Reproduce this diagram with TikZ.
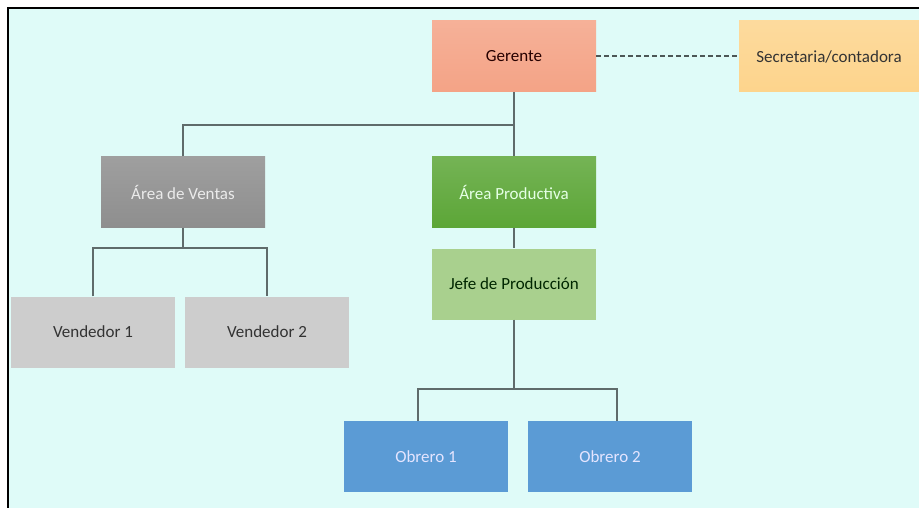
\documentclass[tikz,border=0pt]{standalone}
\usepackage{fontspec}
\setmainfont{Carlito}
\usepackage{xcolor}
\usetikzlibrary{calc,positioning}
\definecolor{fondo}{HTML}{DFFBF8}
\definecolor{salmon}{HTML}{F4A386}
\definecolor{naranja}{HTML}{FDD48C}
\definecolor{grisosc}{HTML}{8E8E8E}
\definecolor{grisclaro}{HTML}{CDCDCD}
\definecolor{verde}{HTML}{5CA637}
\definecolor{verdeclaro}{HTML}{A9D08E}
\definecolor{azul}{HTML}{5B9BD5}
\definecolor{linea}{HTML}{5F6B6B}

\begin{document}
\begin{tikzpicture}[line cap=butt,line join=miter,x=1pt,y=-1pt,
  caja/.style={minimum width=164pt,minimum height=71pt,inner sep=0pt,
    font=\fontsize{17}{20}\selectfont},
  conector/.style={draw=linea,line width=1.4pt}]
\useasboundingbox (0,0) rectangle (919,508);
\fill[white] (0,0) rectangle (919,508);
\fill[fondo] (8,8) rectangle (919,508);
\draw[line width=2.6pt] (8,508) -- (8,8) -- (919,8);
% cajas
\node[caja,top color=salmon!85!white,bottom color=salmon,text=black!75!red!60!black] (ger) at (514,56.5) {Gerente};
\node[caja,minimum width=180pt,top color=naranja!85!white,bottom color=naranja,text=black!80] (sec) at (829,56.5) {Secretaria/contadora};
\node[caja,top color=grisosc!85!white,bottom color=grisosc,text=white!92!black] (ventas) at (183,192) {Área de Ventas};
\node[caja,top color=verde!85!white,bottom color=verde,text=green!10!white] (prod) at (514,192) {Área Productiva};
\node[caja,fill=verdeclaro,text=black!85!green] (jefe) at (514,284) {Jefe de Producción};
\node[caja,fill=grisclaro,text=black!80] (vend1) at (93,332) {Vendedor 1};
\node[caja,fill=grisclaro,text=black!80] (vend2) at (267,332) {Vendedor 2};
\node[caja,fill=azul,text=blue!10!white] (obr1) at (426,456.5) {Obrero 1};
\node[caja,fill=azul,text=blue!10!white] (obr2) at (610,456.5) {Obrero 2};
% lineas
\coordinate (bus1) at (514,125);
\coordinate (bus2) at (183,248);
\coordinate (bus3) at (514,389);
\draw[conector] (ger.south) -- (prod.north);
\draw[conector] (ventas.north) |- (bus1);
\draw[conector] (ventas.south) -- (bus2);
\draw[conector] (vend1.north) |- (bus2) -| (vend2.north);
\draw[conector] (prod.south) -- (jefe.north);
\draw[conector] (jefe.south) -- (bus3);
\draw[conector] ([xshift=-8pt]obr1.north) |- (bus3) -| ([xshift=7pt]obr2.north);
\draw[conector,draw=linea!80!black,line width=2pt,dash pattern=on 5pt off 3pt] (ger.east) -- (sec.west);
\end{tikzpicture}
\end{document}
